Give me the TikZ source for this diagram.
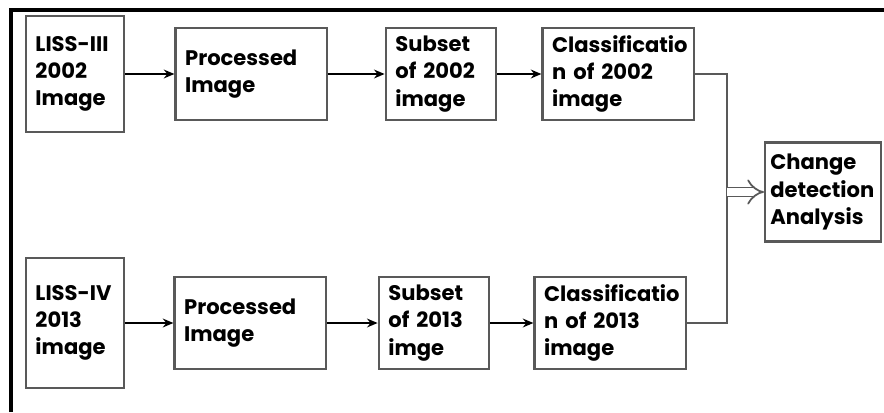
\documentclass[tikz,border=0pt]{standalone}
\usepackage{fontspec}
\setmainfont{Poppins}
\usetikzlibrary{arrows,arrows.meta}

\begin{document}
\begin{tikzpicture}[> = {Stealth[length=6pt,width=5pt]}, % arrow head style
	x=0.02cm,y=0.02cm,
	line width=1pt,
	every node/.style={font=\bfseries\fontsize{12}{15.5}\selectfont},
	blk/.style={draw=black!65,line width=1.2pt,align=left,inner xsep=5.5pt,inner ysep=0pt}]
	\useasboundingbox (0,0) rectangle (884,-412);
	% frame
	\draw[line width=2.3pt] (11,-412) -- (11,-10) -- (884,-10);
	% upper row
	\node[blk,text width=45pt,minimum height=116*0.02cm] (lissA) at (75,-74) {LISS-III\\2002\\Image};
	\node[blk,text width=75pt,minimum height=92*0.02cm] (procA) at (251,-74) {Processed\\Image\\[13pt]};
	\node[blk,text width=52pt,minimum height=92*0.02cm] (subA) at (441,-74) {Subset\\of 2002\\image};
	\node[blk,text width=75pt,minimum height=92*0.02cm] (clsA) at (618,-74) {Classificatio\\n of 2002\\image};
	% lower row
	\node[blk,text width=45pt,minimum height=130*0.02cm] (lissB) at (75,-323) {LISS-IV\\2013\\image};
	\node[blk,text width=75pt,minimum height=92*0.02cm] (procB) at (250,-323) {Processed\\Image\\[13pt]};
	\node[blk,text width=52pt,minimum height=92*0.02cm] (subB) at (434,-323) {Subset\\of 2013\\imge};
	\node[blk,text width=75pt,minimum height=92*0.02cm] (clsB) at (610,-323) {Classificatio\\n of 2013\\image};
	% result
	\node[blk,text width=60pt,inner xsep=3pt,minimum height=99*0.02cm] (chg) at (823,-192) {Change\\detection\\Analysis};
	\coordinate (jn) at (727,-192);
	\draw[->] (lissA) -- (procA);
	\draw[->] (procA) -- (subA);
	\draw[->] (subA) -- (clsA);
	\draw[->] (lissB) -- (procB);
	\draw[->] (procB) -- (subB);
	\draw[->] (subB) -- (clsB);
	\draw[black!65] (clsA.east) -| (jn) |- (clsB.east);
	\draw[black!65,double,double distance=4pt,-{Implies}] (jn) -- (chg.west);
\end{tikzpicture}
\end{document}
